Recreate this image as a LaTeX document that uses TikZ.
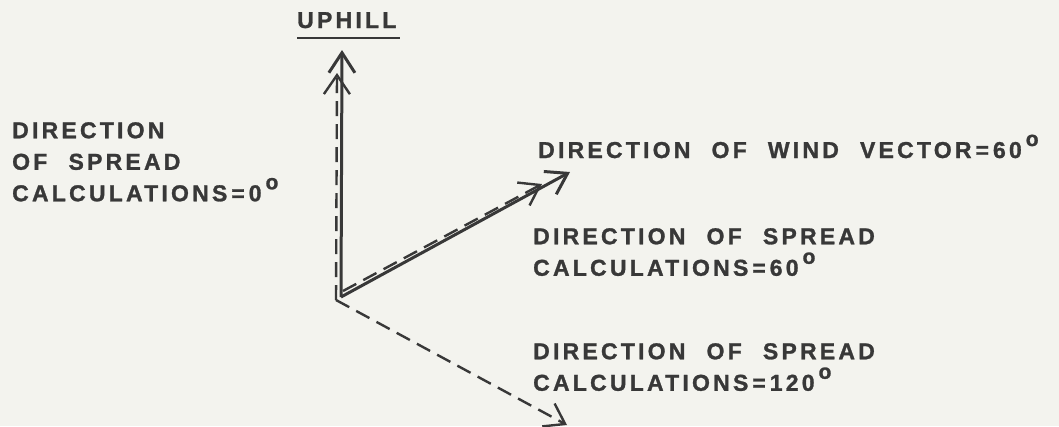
\documentclass[tikz,border=0pt]{standalone}
\usepackage{fontspec}
\setmainfont{Liberation Sans}
\newfontfamily\lblfont{Liberation Sans}[LetterSpace=14,WordSpace=2.2,BoldFeatures={FakeBold=1.2}]
\usetikzlibrary{arrows.meta,positioning}

\definecolor{ink}{HTML}{383838}
\definecolor{paper}{HTML}{F3F3EE}

\tikzset{
  lbl/.style={inner sep=0pt, text=ink, align=left,
    font=\fontsize{23}{31.5}\selectfont\lblfont\bfseries},
  vec/.style={draw=ink, line width=3pt,
    -{Straight Barb[length=20pt,width=26pt,line width=3pt]}},
  calcvec/.style={draw=ink, line width=2.4pt, dash pattern=on 15pt off 8pt,
    -{Straight Barb[length=19pt,width=26pt,line width=2.4pt]}},
}
\newcommand{\dg}{\kern4pt\raisebox{12pt}{\fontsize{21}{21}\selectfont o}}
\newcommand{\eq}{\kern4pt=\kern4pt}

\begin{document}
\begin{tikzpicture}[x=1pt,y=-1pt]
\fill[paper] (0,0) rectangle (1059,426);
\useasboundingbox (0,0) rectangle (1059,426);

% origin and vector ends
\coordinate (o) at (341,297);
\coordinate (od) at (336,300);
\coordinate (odw) at (343,291);
\coordinate (up) at (342,50);
\coordinate (upd) at (337,73);
\coordinate (wind) at (570,172);
\coordinate (spr60) at (542,184);
\coordinate (spr120) at (567,425);

% labels
\node[lbl, anchor=base west] (uphill) at (297,28) {UPHILL};
\draw[ink, line width=2pt] ([yshift=-10pt]uphill.base west) -- ([yshift=-10pt,xshift=3pt]uphill.base east);
\node[lbl, anchor=north west] (calc0) at (12,122) {DIRECTION\\OF SPREAD\\CALCULATIONS\eq0\dg};
\node[lbl, anchor=base west] (windlbl) at (538,158) {DIRECTION OF WIND VECTOR\eq60\dg};
\node[lbl, anchor=north west] (calc60) at (533,228) {DIRECTION OF SPREAD\\CALCULATIONS\eq60\dg};
\node[lbl, anchor=north west] (calc120) at (533,343) {DIRECTION OF SPREAD\\CALCULATIONS\eq120\dg};

% vectors
\draw[vec] (o) -- (up);
\draw[vec] (o) -- (wind);
\draw[calcvec] (od) -- (upd);
\draw[calcvec] (odw) -- (spr60);
\draw[calcvec] (od) -- (spr120);
\end{tikzpicture}
\end{document}
